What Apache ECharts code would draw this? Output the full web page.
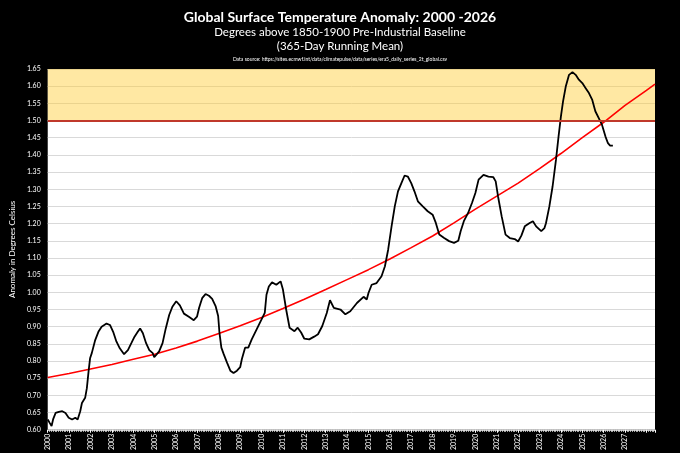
<!DOCTYPE html>
<html>
<head>
<meta charset="utf-8">
<script src="https://cdn.jsdelivr.net/npm/echarts@6/dist/echarts.min.js"></script>
<style>
html,body{margin:0;padding:0;background:#000;}
#chart{width:680px;height:453px;}
</style>
</head>
<body>
<div id="chart"></div>
<script>
// Temperature anomaly (365-day running mean), decimal years
const tempYears = [2000.00,2000.09,2000.18,2000.25,2000.37,2000.52,2000.68,2000.83,2000.98,2001.14,2001.29,2001.40,2001.52,2001.60,2001.75,2001.83,2001.91,2001.98,2002.06,2002.22,2002.37,2002.52,2002.75,2002.91,2003.06,2003.13,2003.21,2003.37,2003.57,2003.75,2003.91,2004.06,2004.21,2004.32,2004.45,2004.60,2004.75,2004.91,2004.98,2005.21,2005.37,2005.52,2005.68,2005.83,2006.01,2006.18,2006.37,2006.60,2006.83,2006.98,2007.08,2007.15,2007.23,2007.38,2007.54,2007.69,2007.85,2007.97,2008.03,2008.12,2008.23,2008.38,2008.54,2008.69,2008.85,2009.00,2009.08,2009.23,2009.38,2009.54,2009.77,2010.00,2010.15,2010.23,2010.34,2010.49,2010.69,2010.89,2011.00,2011.15,2011.31,2011.54,2011.69,2011.85,2012.00,2012.23,2012.46,2012.64,2012.84,2013.05,2013.20,2013.38,2013.69,2013.92,2014.15,2014.46,2014.77,2014.92,2015.00,2015.15,2015.38,2015.61,2015.77,2015.92,2016.08,2016.23,2016.38,2016.54,2016.69,2016.84,2017.00,2017.15,2017.31,2017.54,2017.77,2018.00,2018.15,2018.31,2018.54,2018.77,2019.00,2019.20,2019.31,2019.46,2019.66,2019.84,2020.00,2020.15,2020.38,2020.61,2020.84,2020.95,2021.06,2021.23,2021.41,2021.61,2021.84,2022.00,2022.15,2022.31,2022.54,2022.69,2022.84,2023.08,2023.23,2023.30,2023.46,2023.61,2023.77,2023.89,2024.00,2024.10,2024.23,2024.38,2024.54,2024.69,2024.84,2025.00,2025.15,2025.31,2025.46,2025.61,2025.77,2025.92,2026.08,2026.20,2026.30,2026.43];
const tempValues = [0.630,0.620,0.611,0.630,0.649,0.652,0.654,0.649,0.635,0.630,0.635,0.630,0.654,0.678,0.693,0.721,0.770,0.808,0.823,0.861,0.885,0.900,0.909,0.905,0.885,0.880,0.857,0.837,0.820,0.832,0.852,0.871,0.885,0.895,0.881,0.852,0.832,0.823,0.811,0.828,0.852,0.895,0.934,0.958,0.974,0.962,0.938,0.929,0.919,0.929,0.955,0.969,0.984,0.995,0.990,0.981,0.960,0.931,0.883,0.839,0.820,0.796,0.772,0.765,0.772,0.782,0.806,0.839,0.839,0.863,0.892,0.921,0.940,0.993,1.017,1.029,1.022,1.032,1.008,0.950,0.897,0.887,0.897,0.883,0.865,0.863,0.871,0.878,0.902,0.940,0.977,0.955,0.950,0.936,0.945,0.969,0.987,0.979,0.998,1.022,1.027,1.047,1.076,1.124,1.192,1.250,1.294,1.318,1.340,1.337,1.318,1.294,1.265,1.250,1.236,1.226,1.202,1.168,1.158,1.149,1.144,1.150,1.178,1.207,1.231,1.260,1.289,1.328,1.342,1.337,1.335,1.323,1.279,1.221,1.168,1.158,1.155,1.148,1.165,1.192,1.202,1.207,1.192,1.178,1.187,1.201,1.250,1.308,1.386,1.454,1.512,1.556,1.600,1.633,1.641,1.633,1.619,1.609,1.595,1.580,1.561,1.527,1.507,1.488,1.454,1.434,1.427,1.427];

// Red trend curve
const trendYears = [2000,2001,2002,2003,2004,2005,2006,2007,2008,2009,2010,2011,2012,2013,2014,2015,2016,2017,2018,2019,2020,2021,2022,2023,2024,2025,2026,2027,2028,2028.4];
const trendValues = [0.752,0.764,0.777,0.790,0.805,0.820,0.838,0.858,0.880,0.903,0.927,0.953,0.980,1.008,1.037,1.066,1.097,1.130,1.164,1.202,1.242,1.280,1.318,1.360,1.404,1.450,1.495,1.544,1.588,1.606];

// Threshold band
const thresholdValue = 1.5;
const axisTop = 1.65;

const titleText = 'Global Surface Temperature Anomaly: 2000 -2026';
const subtitle1 = 'Degrees above 1850-1900 Pre-Industrial Baseline';
const subtitle2 = '(365-Day Running Mean)';
const sourceText = 'Data source: https://sites.ecmwf.int/data/climatepulse/data/series/era5_daily_series_2t_global.csv';
const yAxisTitle = 'Anomaly in Degrees Celsius';

const FONT = 'Lato';
const chart = echarts.init(document.getElementById('chart'));
chart.setOption({
  backgroundColor: '#000',
  animation: false,
  title: [
    {text: titleText, left: 'center', top: 5, textStyle: {color: '#fff', fontSize: 14, fontWeight: 'bold', fontFamily: FONT}},
    {text: subtitle1, left: 'center', top: 21, textStyle: {color: '#fff', fontSize: 11.5, fontWeight: 'normal', fontFamily: FONT}},
    {text: subtitle2, left: 'center', top: 35, textStyle: {color: '#fff', fontSize: 11.5, fontWeight: 'normal', fontFamily: FONT}},
    {text: sourceText, left: 'center', top: 52, textStyle: {color: '#fff', fontSize: 5, fontWeight: 'normal', fontFamily: FONT}}
  ],
  grid: {left: 40, right: 25, top: 69, bottom: 21, show: true, backgroundColor: '#fff', borderWidth: 0},
  xAxis: {
    type: 'value', min: 2000, max: 2028.4, interval: 1,
    axisLine: {show: true, lineStyle: {color: '#bbb', width: 1}},
    axisTick: {show: true, length: 3, lineStyle: {color: '#fff'}},
    minorTick: {show: true, splitNumber: 12, length: 2, lineStyle: {color: '#ddd'}},
    splitLine: {show: false},
    axisLabel: {
      color: '#fff', fontSize: 7, rotate: 90, fontFamily: FONT, margin: 4,
      showMaxLabel: false,
      formatter: v => (v <= 2027 && Math.abs(v - Math.round(v)) < 1e-6) ? String(Math.round(v)) : ''
    }
  },
  yAxis: {
    type: 'value', min: 0.6, max: axisTop, interval: 0.05,
    name: yAxisTitle, nameLocation: 'middle', nameGap: 27, nameRotate: 90,
    nameTextStyle: {color: '#fff', fontSize: 8, fontFamily: FONT},
    axisLine: {show: false}, axisTick: {show: false},
    splitLine: {show: true, lineStyle: {color: '#d9d9d9', width: 1}},
    axisLabel: {color: '#fff', fontSize: 7, fontFamily: FONT, margin: 7, formatter: v => v.toFixed(2)}
  },
  series: [
    {
      type: 'line', data: trendYears.map((y, i) => [y, trendValues[i]]),
      showSymbol: false, smooth: false, z: 3,
      lineStyle: {color: '#ff0000', width: 1.6},
      markArea: {silent: true, itemStyle: {color: 'rgba(255,204,51,0.45)'}, data: [[{yAxis: thresholdValue}, {yAxis: axisTop}]]},
      markLine: {silent: true, symbol: 'none', label: {show: false}, lineStyle: {color: '#c0392b', width: 2, type: 'solid'}, data: [{yAxis: thresholdValue}]}
    },
    {
      type: 'line', data: tempYears.map((y, i) => [y, tempValues[i]]),
      showSymbol: false, z: 4,
      lineStyle: {color: '#000', width: 1.8}
    }
  ]
});
</script>
</body>
</html>
